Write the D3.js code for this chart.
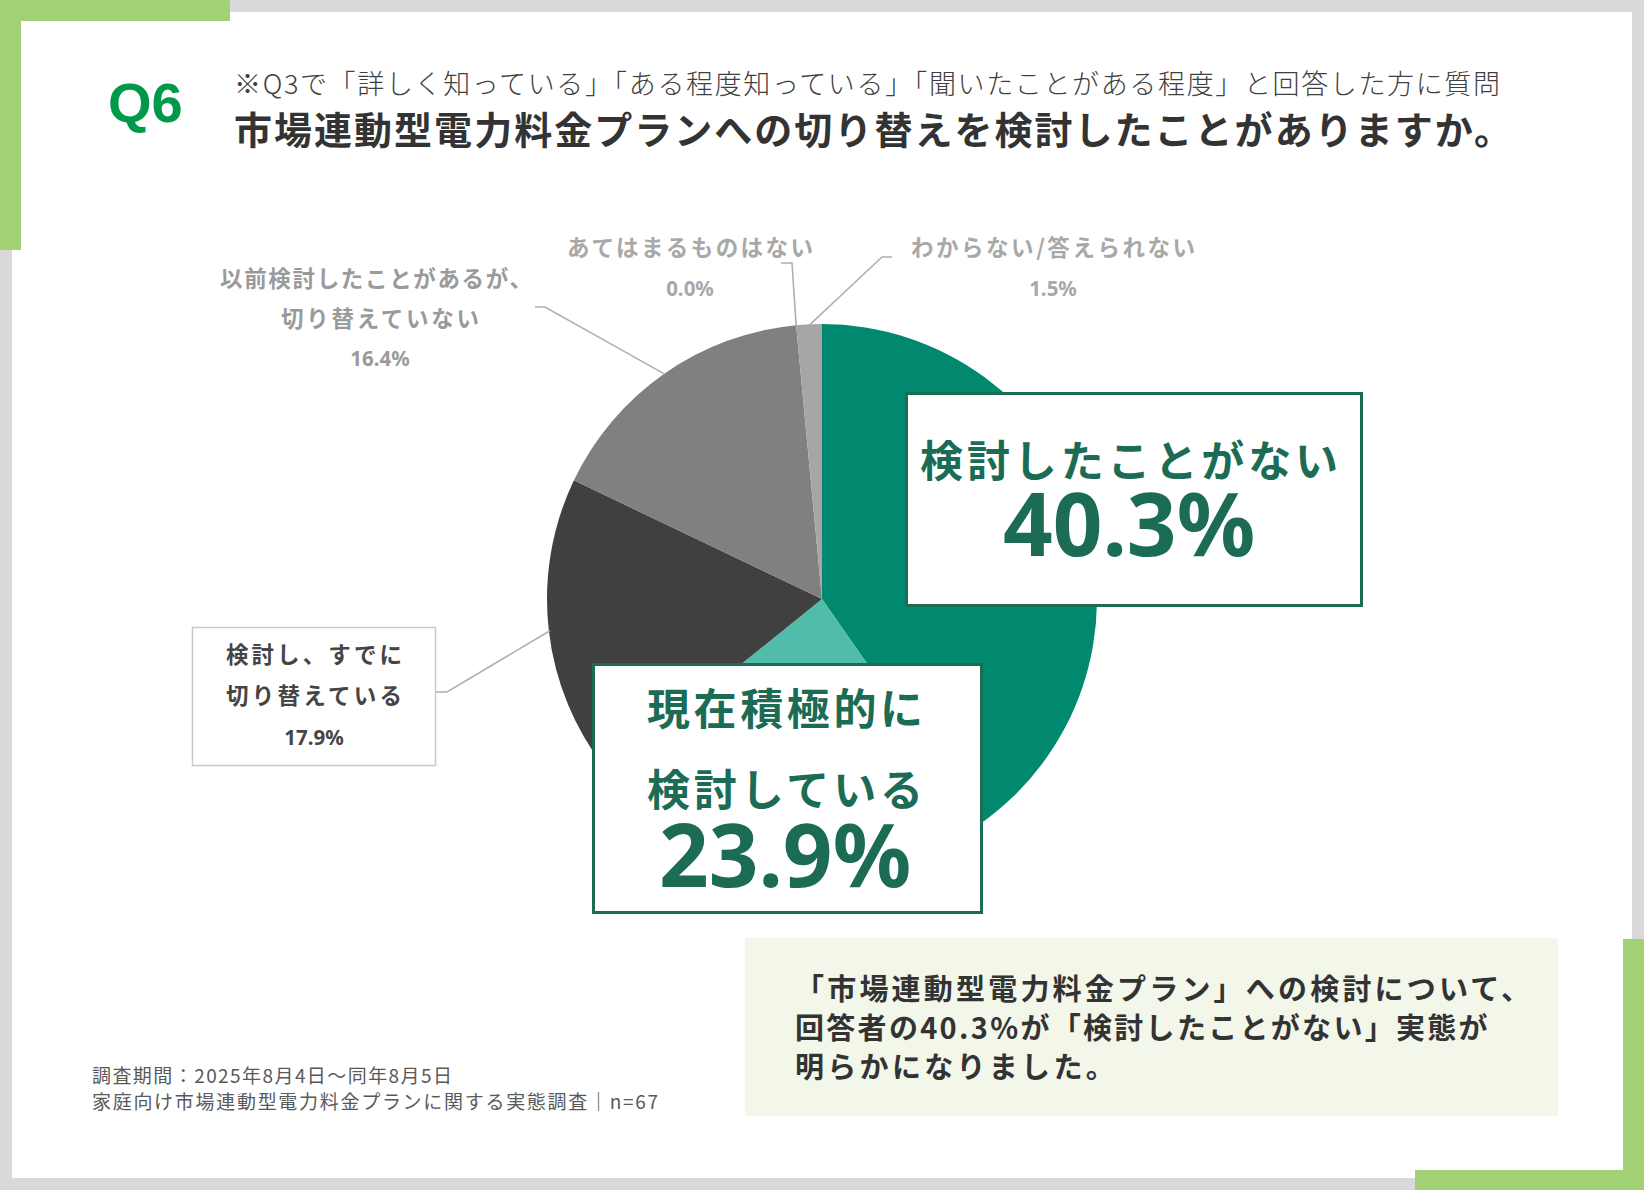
<!DOCTYPE html>
<html><head><meta charset="utf-8">
<script src="https://cdn.jsdelivr.net/npm/d3@7/dist/d3.min.js"></script>
<style>
html,body{margin:0;padding:0;background:#d9d9d9;}
svg{display:block;}
</style></head><body>
<svg id="c" width="1644" height="1190"></svg>
<script>
// ---- data ----
const labelLines = [
  ["検討したことがない"],
  ["現在積極的に", "検討している"],
  ["検討し、すでに", "切り替えている"],
  ["以前検討したことがあるが、", "切り替えていない"],
  ["あてはまるものはない"],
  ["わからない/答えられない"]
];
const categories = labelLines.map(l => l.join(""));
const values = [40.3, 23.9, 17.9, 16.4, 0.0, 1.5];
const questionNo = "Q6";
const subtitleText = "※Q3で「詳しく知っている」「ある程度知っている」「聞いたことがある程度」と回答した方に質問";
const titleText = "市場連動型電力料金プランへの切り替えを検討したことがありますか。";
const noteLines = ["「市場連動型電力料金プラン」への検討について、", "回答者の40.3%が「検討したことがない」実態が", "明らかになりました。"];
const footerLines = ["調査期間：2025年8月4日〜同年8月5日", "家庭向け市場連動型電力料金プランに関する実態調査｜n=67"];

// ---- styles / layout ----
const sliceColors = ["#00896f", "#52bcab", "#404040", "#808080", "#a6a6a6", "#a6a6a6"];
const JP = "'Noto Sans CJK JP','Noto Sans JP',sans-serif";
const NUM = "'Noto Sans','Open Sans',sans-serif";
const GREEN_TXT = "#1b6b55";

const svg = d3.select("#c");

function txt(x, y, s, o) {
  const t = svg.append("text").attr("x", x).attr("y", y).text(s)
    .attr("font-family", o.family || JP)
    .attr("font-size", o.size)
    .attr("font-weight", o.weight || 400)
    .attr("fill", o.fill || "#333")
    .attr("text-anchor", o.anchor || "start");
  if (o.len) t.attr("textLength", o.len).attr("lengthAdjust", o.adj || "spacing");
  if (o.ls) t.attr("letter-spacing", o.ls);
  return t;
}

// background card
svg.append("rect").attr("x", 0).attr("y", 0).attr("width", 1644).attr("height", 1190).attr("fill", "#d9d9d9");
svg.append("rect").attr("x", 12).attr("y", 12).attr("width", 1620).attr("height", 1166).attr("fill", "#ffffff");
const cornerGreen = "#a3d176";
svg.append("rect").attr("x", 0).attr("y", 0).attr("width", 230).attr("height", 21).attr("fill", cornerGreen);
svg.append("rect").attr("x", 0).attr("y", 0).attr("width", 21).attr("height", 250).attr("fill", cornerGreen);
svg.append("rect").attr("x", 1415).attr("y", 1170).attr("width", 229).attr("height", 20).attr("fill", cornerGreen);
svg.append("rect").attr("x", 1623).attr("y", 939).attr("width", 21).attr("height", 251).attr("fill", cornerGreen);

// header
txt(108, 122, questionNo, {family: "'Liberation Sans',Arial,sans-serif", size: 56, weight: 700, fill: "#00994a"});
txt(234, 94, subtitleText, {size: 27, weight: 300, fill: "#404040", len: 1266});
txt(234, 144, titleText, {size: 38, weight: 700, fill: "#333333", len: 1278});

// pie
const cx = 822, cy = 599, R = 275;
const pie = d3.pie().sort(null).value(d => d).startAngle(0).endAngle(2 * Math.PI);
const arcs = pie(values);
const arc = d3.arc().innerRadius(0).outerRadius(R);
const edge = d3.arc().innerRadius(R - 1).outerRadius(R - 1);
const gp = svg.append("g").attr("transform", `translate(${cx},${cy})`);
gp.selectAll("path").data(arcs).join("path")
  .attr("d", arc).attr("fill", (d, i) => sliceColors[i]);

// leader lines (elbow anchors are layout positions)
const leaderElbows = {
  2: [[436, 692], [447, 692]],
  3: [[535, 307], [545, 307]],
  4: [[781, 263], [792, 263]],
  5: [[892, 257], [882, 257]]
};
Object.keys(leaderElbows).forEach(k => {
  const i = +k;
  const c = edge.centroid(arcs[i]);
  const pts = leaderElbows[k].concat([[cx + c[0], cy + c[1]]]);
  svg.append("path").attr("d", d3.line()(pts))
    .attr("fill", "none").attr("stroke", "#b0b0b0").attr("stroke-width", 1.6);
});

// 17.9% box
svg.append("rect").attr("x", 192.5).attr("y", 627.5).attr("width", 243).attr("height", 138)
  .attr("fill", "#fff").attr("stroke", "#c9c9c9").attr("stroke-width", 1.5);

// small labels
const smallLabels = [
  {i: 2, xs: [314, 314], vx: 314, ys: [663, 704], vy: 745, fill: "#454545", lens: [176, 176]},
  {i: 3, xs: [376, 380], vx: 380, ys: [287, 327], vy: 366, fill: "#9a9a9a", lens: [312, 198]},
  {i: 4, xs: [690], vx: 690, ys: [256], vy: 296, fill: "#a8a8a8", lens: [246]},
  {i: 5, xs: [1053], vx: 1053, ys: [256], vy: 296, fill: "#a8a8a8", lens: [284]}
];
smallLabels.forEach(L => {
  labelLines[L.i].forEach((s, j) => {
    txt(L.xs[j], L.ys[j], s, {size: 22.5, weight: 700, fill: L.fill, anchor: "middle", len: L.lens[j]});
  });
  txt(L.vx, L.vy, values[L.i].toFixed(1) + "%", {family: NUM, size: 20.5, weight: 700, fill: L.fill, anchor: "middle"});
});

// big boxes
const bigBoxes = [
  {i: 0, x: 906.5, y: 393.5, w: 455, h: 212, cx: 1129, ys: [477], vy: 556, lens: [418]},
  {i: 1, x: 593.5, y: 664.5, w: 388, h: 248, cx: 785, ys: [725, 806], vy: 887, lens: [276, 276]}
];
bigBoxes.forEach(B => {
  svg.append("rect").attr("x", B.x).attr("y", B.y).attr("width", B.w).attr("height", B.h)
    .attr("fill", "#fff").attr("stroke", GREEN_TXT).attr("stroke-width", 3);
  labelLines[B.i].forEach((s, j) => {
    txt(B.cx, B.ys[j], s, {size: 43, weight: 700, fill: GREEN_TXT, anchor: "middle", len: B.lens[j]});
  });
  txt(B.cx, B.vy, values[B.i].toFixed(1) + "%", {family: NUM, size: 87, weight: 700, fill: GREEN_TXT, anchor: "middle"});
});

// note box
svg.append("rect").attr("x", 745).attr("y", 938).attr("width", 813).attr("height", 178).attr("fill", "#f2f7ea");
const noteYs = [1000, 1039, 1078];
const noteLs = [3.2, 2.3, 3.3];
noteLines.forEach((s, j) => txt(795, noteYs[j], s, {size: 29, weight: 700, fill: "#333333", ls: noteLs[j]}));

// footer
const footYs = [1083, 1109];
const footLens = [360, 566];
footerLines.forEach((s, j) => txt(92, footYs[j], s, {size: 19, weight: 400, fill: "#595959", len: footLens[j]}));
</script>
</body></html>
